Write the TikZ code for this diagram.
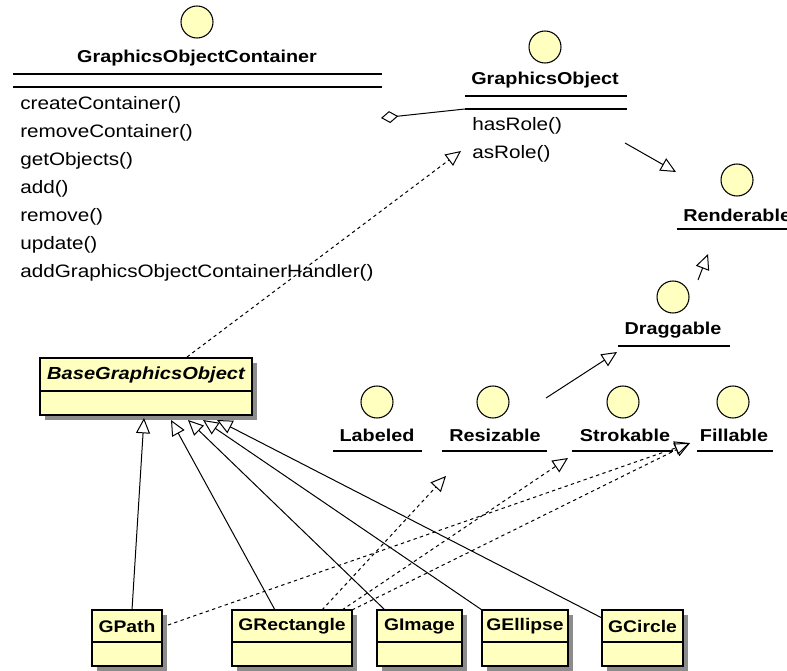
\documentclass[tikz,border=0pt]{standalone}
\usepackage{fontspec}
\setmainfont{Liberation Sans}[FakeStretch=1.15]
\usetikzlibrary{arrows.meta}
\definecolor{umlfill}{RGB}{255,255,192}
\definecolor{umlshadow}{RGB}{140,140,140}
\newcommand\umlclass[8]{% name, x1, y1, x2, y2, ydiv, label, font
  \fill[umlshadow] (#2+5,#3+5) rectangle (#4+5,#5+5);
  \node[classbox, minimum width={(#4-#2)*0.75pt}, minimum height={(#5-#3)*0.75pt}] (#1) at ({(#2+#4)/2},{(#3+#5)/2}) {};
  \draw[line width=1.2pt] (#2,#6) -- (#4,#6);
  \node[lbl, font=#8] (#1-name) at ({(#2+#4)/2},{(#3+#6)/2}) {#7};
}
\newcommand\umliface[8]{% name, cx, cy, label, lx, ly, ux1, ux2 (underline y = ly+16)
  \node[iface] (#1) at (#2,#3) {};
  \node[lbl] (#1-name) at (#5,#6) {#4};
  \draw[uline] (#7,#6+16) -- (#8,#6+16);
}
\begin{document}
\begin{tikzpicture}[x=0.75pt,y=-0.75pt,
  conn/.style={line width=0.75pt, black},
  gen/.style={conn, -{Triangle[open, length=11.5pt, width=10.5pt]}},
  realize/.style={gen, dash pattern=on 2.5pt off 2.5pt},
  classbox/.style={draw=black, line width=1.2pt, fill=umlfill, inner sep=0pt, outer sep=0pt},
  lbl/.style={font=\fontsize{12.9pt}{15pt}\selectfont\bfseries, inner sep=0pt},
  meth/.style={font=\fontsize{13.5pt}{16pt}\selectfont, inner sep=0pt, anchor=west},
  iface/.style={circle, draw=black, line width=0.8pt, fill=umlfill, minimum size=24pt, inner sep=0pt},
  uline/.style={line width=1.1pt}
]
\useasboundingbox (0,0) rectangle (787,670);
\clip (0,0) rectangle (787,670);

% GraphicsObjectContainer
\node[iface] (goc) at (197,22) {};
\node[lbl] (goc-name) at (197,58) {GraphicsObjectContainer};
\draw[uline] (13,74) -- (382,74);
\draw[uline] (13,87) -- (382,87);
\node[meth] (m1) at (20,105) {createContainer()};
\node[meth] (m2) at (20,133) {removeContainer()};
\node[meth] (m3) at (20,161) {getObjects()};
\node[meth] (m4) at (20,189) {add()};
\node[meth] (m5) at (20,217) {remove()};
\node[meth] (m6) at (20,245) {update()};
\node[meth] (m7) at (20,273) {addGraphicsObjectContainerHandler()};

% GraphicsObject
\node[iface] (go) at (545,47) {};
\node[lbl] (go-name) at (545,80) {GraphicsObject};
\draw[uline] (465,96) -- (627,96);
\draw[uline] (465,109) -- (627,109);
\node[meth] (h1) at (472,126) {hasRole()};
\node[meth] (h2) at (472,154) {asRole()};

% Renderable
\node[iface] (rend) at (737,180) {};
\node[lbl, anchor=west] (rend-name) at (683,215) {Renderable};
\draw[uline] (677,229) -- (790,229);

% interfaces
\umliface{drag}{673}{297}{Draggable}{673}{330}{618}{730}
\umliface{labeled}{377}{402}{Labeled}{377}{435}{333}{422}
\umliface{resiz}{493}{402}{Resizable}{495}{435}{442}{547}
\umliface{strok}{623}{402}{Strokable}{625}{435}{572}{673}
\umliface{fill}{733}{402}{Fillable}{734}{435}{697}{773}

% classes
\umlclass{base}{40}{358}{252}{415}{391}{BaseGraphicsObject}{\fontsize{13.1pt}{15pt}\selectfont\bfseries\itshape}
\umlclass{gpath}{92}{610}{162}{666}{642}{GPath}{\fontsize{12.6pt}{15pt}\selectfont\bfseries}
\umlclass{grect}{232}{610}{352}{666}{642}{GRectangle}{\fontsize{12.6pt}{15pt}\selectfont\bfseries}
\umlclass{gimage}{377}{610}{462}{666}{642}{GImage}{\fontsize{12.6pt}{15pt}\selectfont\bfseries}
\umlclass{gellipse}{482}{610}{568}{666}{642}{GEllipse}{\fontsize{12.6pt}{15pt}\selectfont\bfseries}
\umlclass{gcircle}{602}{610}{683}{666}{642}{GCircle}{\fontsize{12.6pt}{15pt}\selectfont\bfseries}

% connector end points
\coordinate (goc-agg) at (381,118);
\coordinate (go-sw) at (465,109);
\coordinate (go-real) at (461,151);
\coordinate (go-out) at (625,143);
\coordinate (rend-in1) at (676,172);
\coordinate (rend-in2) at (708,254);
\coordinate (drag-out) at (698,280);
\coordinate (drag-in) at (617,352);
\coordinate (resiz-out) at (546,398);
\coordinate (resiz-in) at (446,476);
\coordinate (strok-in) at (568,458);
\coordinate (fill-in) at (690,443);
\coordinate (base-top) at (187,357);
\coordinate (base-t1) at (144,418);
\coordinate (base-t2) at (171,420);
\coordinate (base-t3) at (188,420);
\coordinate (base-t4) at (203,420);
\coordinate (base-t5) at (217,420);
\coordinate (gpath-top) at (132,610);
\coordinate (gpath-r) at (168,625);
\coordinate (grect-t1) at (275,610);
\coordinate (grect-t2) at (322,610);
\coordinate (grect-t3) at (342,610);
\coordinate (grect-t4) at (352,610);
\coordinate (gimage-top) at (385,610);
\coordinate (gellipse-top) at (482,610);
\coordinate (gcircle-l) at (602,618);

% aggregation
\draw[conn, {Diamond[open, length=13pt, width=9pt]}-] (goc-agg) -- (go-sw);
% realization Base -> GraphicsObject
\draw[realize] (base-top) -- (go-real);
% generalizations
\draw[gen] (go-out) -- (rend-in1);
\draw[gen] (drag-out) -- (rend-in2);
\draw[gen] (resiz-out) -- (drag-in);
\draw[gen] (gpath-top) -- (base-t1);
\draw[gen] (grect-t1) -- (base-t2);
\draw[gen] (gimage-top) -- (base-t3);
\draw[gen] (gellipse-top) -- (base-t4);
\draw[gen] (gcircle-l) -- (base-t5);
% realizations to interfaces
\draw[realize] (gpath-r) -- (fill-in);
\draw[realize] (grect-t2) -- (resiz-in);
\draw[realize] (grect-t3) -- (strok-in);
\draw[realize] (grect-t4) -- (fill-in);
\end{tikzpicture}
\end{document}
